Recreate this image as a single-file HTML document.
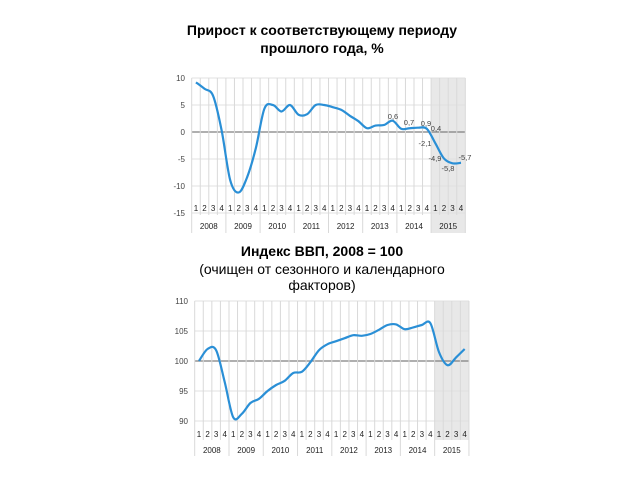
<!DOCTYPE html>
<html><head><meta charset="utf-8"><style>
body{margin:0;background:#fff;width:640px;height:480px;overflow:hidden;font-family:"Liberation Sans",sans-serif}
svg{position:absolute;left:0;top:0}
</style></head><body>
<svg id="s" width="640" height="480" xmlns="http://www.w3.org/2000/svg" font-family="Liberation Sans, sans-serif">
<text x="322" y="35" text-anchor="middle" font-size="14" font-weight="bold">Прирост к соответствующему периоду</text>
<text x="322" y="53" text-anchor="middle" font-size="14" font-weight="bold">прошлого года, %</text>
<text x="322" y="256" text-anchor="middle" font-size="14" font-weight="bold">Индекс ВВП, 2008 = 100</text>
<text x="322" y="274" text-anchor="middle" font-size="14">(очищен от сезонного и календарного</text>
<text x="322" y="290" text-anchor="middle" font-size="14">факторов)</text>
<g id="c1"></g><g id="c2"></g>
</svg>
<script>
var NS="http://www.w3.org/2000/svg";
function el(g,t,a,txt){var e=document.createElementNS(NS,t);for(var k in a)e.setAttribute(k,a[k]);if(txt!=null)e.textContent=txt;g.appendChild(e);return e;}
function chart(g,o){
 var x0=o.x0,w=o.qw,x1=x0+32*w;
 el(g,'rect',{x:x0+28*w,y:o.top,width:4*w,height:o.shadeB-o.top,fill:'#e8e8e8'});
 o.ticks.forEach(function(v){var y=o.Y(v);
  el(g,'line',{x1:x0,x2:x1,y1:y,y2:y,stroke:v===o.base?'#7f7f7f':'#e0e0e0','stroke-width':v===o.base?1.3:1});
  el(g,'text',{x:o.lx,y:y+3,'font-size':8,'text-anchor':'end',fill:'#444'},String(v));});
 for(var i=0;i<=32;i++){var x=x0+i*w;var yr=i%4==0;
  el(g,'line',{x1:x,x2:x,y1:o.top,y2:yr?o.yrB:o.qB,stroke:'#d9d9d9','stroke-width':1});}
 for(var i=0;i<32;i++){var x=x0+(i+0.5)*w;
  el(g,'text',{x:x,y:o.qy,'font-size':8,'text-anchor':'middle',fill:'#222'},String(i%4+1));}
 for(var k=0;k<8;k++)el(g,'text',{x:x0+(k*4+2)*w,y:o.yy,'font-size':8,'text-anchor':'middle',fill:'#222'},String(2008+k));
 var p=o.d.map(function(v,i){return [x0+(i+0.5)*w,o.Y(v)];});
 var d='M'+p[0][0]+','+p[0][1];
 for(var i=0;i<p.length-1;i++){var a=p[Math.max(i-1,0)],b=p[i],c=p[i+1],e=p[Math.min(i+2,p.length-1)];
  d+=' C'+(b[0]+(c[0]-a[0])/6)+','+(b[1]+(c[1]-a[1])/6)+' '+(c[0]-(e[0]-b[0])/6)+','+(c[1]-(e[1]-b[1])/6)+' '+c[0]+','+c[1];}
 el(g,'path',{d:d,fill:'none',stroke:'#2a8fd6','stroke-width':2.2});
 (o.labels||[]).forEach(function(l){el(g,'text',{x:l[0],y:l[1],'font-size':7.5,'text-anchor':'middle',fill:'#444'},l[2]);});
}
chart(document.getElementById('c1'),{x0:191.7,qw:8.55,top:78,shadeB:233,qB:215,yrB:233,qy:211,yy:229,lx:185,base:0,
 ticks:[10,5,0,-5,-10,-15],Y:function(v){return 132-v*5.4;},
 d:[9.2,8,6.7,0.3,-8.9,-11.2,-8.3,-3,4.3,5,3.8,5,3.2,3.3,5,5,4.6,4.1,3,2,0.7,1.2,1.3,2.1,0.6,0.7,0.8,0.6,-2.1,-4.9,-5.8,-5.7],
 labels:[[393,119,'0,6'],[409,125,'0,7'],[426,126,'0,9'],[436,131,'0,4'],[425,146,'-2,1'],[435,161,'-4,9'],[448,171,'-5,8'],[465,160,'-5,7']]});
chart(document.getElementById('c2'),{x0:194.7,qw:8.57,top:301,shadeB:440,qB:440,yrB:456,qy:437,yy:453,lx:188,base:100,
 ticks:[110,105,100,95,90],Y:function(v){return 361-(v-100)*6;},
 d:[100,102,101.8,96.5,90.6,91.2,93,93.7,95,96,96.7,98,98.2,99.8,101.8,102.8,103.3,103.8,104.3,104.2,104.5,105.2,106,106.1,105.3,105.6,106,106.3,101.5,99.3,100.6,102]});
</script>
</body></html>
